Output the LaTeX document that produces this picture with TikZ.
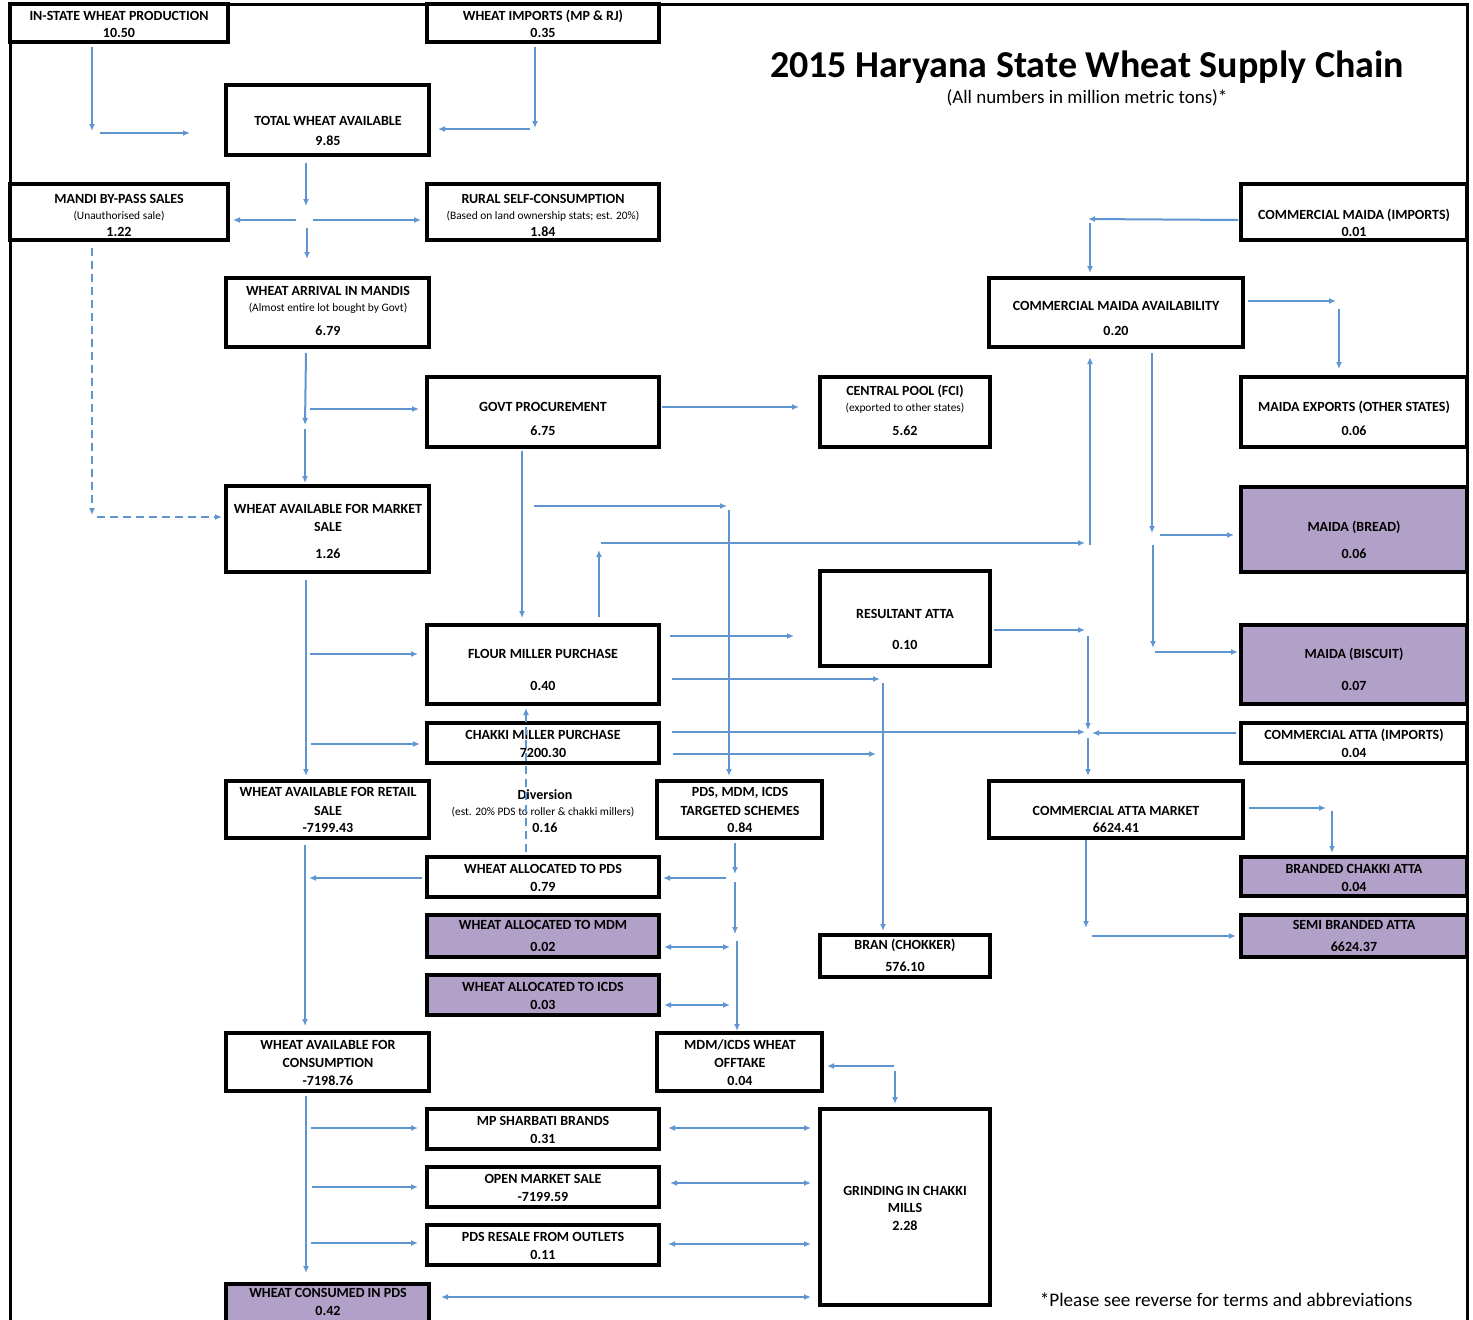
\documentclass[tikz,border=0pt]{standalone}
\usepackage{fontspec}
\setmainfont{Carlito}
\usetikzlibrary{arrows.meta,fit}
\definecolor{lblue}{RGB}{95,150,210}
\definecolor{lpurp}{RGB}{177,160,199}
\tikzset{
 box/.style={draw=black,line width=4pt,inner sep=0pt},
 pbox/.style={box,fill=lpurp},
 bt/.style={font=\fontsize{14}{16}\selectfont\bfseries,anchor=mid,inner sep=0pt,yshift=-2.5pt},
 st/.style={font=\fontsize{11.4}{13}\selectfont,anchor=mid,inner sep=0pt,yshift=-2pt},
 arr/.style={draw=lblue,line width=2pt,-{Latex[length=7pt,width=6pt]}},
 darr/.style={draw=lblue,line width=2pt,{Latex[length=7pt,width=6pt]}-{Latex[length=7pt,width=6pt]}},
 dasharr/.style={arr,dash pattern=on 8pt off 5pt},
 frm/.style={line width=3pt,draw=black},
}
\newcommand\Bx[6]{\node[#6,fit={(#2,#3)(#4,#5)}] (#1) {};}
\newcommand\Tb[3]{\node[bt] at (#1,#2) {#3};}
\newcommand\Ts[3]{\node[st] at (#1,#2) {#3};}
\begin{document}
\begin{tikzpicture}[x=1pt,y=-1pt]
\useasboundingbox (0,0) rectangle (1473,1320);
\clip (0,0) rectangle (1473,1320);
\fill[white] (0,0) rectangle (1473,1320);
% frame
\draw[frm] (10,1330) -- (10,4) -- (1467,4) -- (1467,1330);
% boxes
\Bx{inst}{10}{4}{228}{42}{box}
\Bx{imp}{427}{4}{659}{42}{box}
\Bx{total}{226}{85}{429}{155}{box}
\Bx{mandi}{10}{184}{228}{240}{box}
\Bx{rural}{427}{184}{659}{240}{box}
\Bx{arrival}{226}{278}{429}{347}{box}
\Bx{govt}{427}{377}{659}{447}{box}
\Bx{central}{820}{377}{990}{447}{box}
\Bx{market}{226}{486}{429}{572}{box}
\Bx{cmimp}{1241}{184}{1467}{240}{box}
\Bx{mavail}{989}{278}{1243}{347}{box}
\Bx{mexp}{1241}{377}{1467}{447}{box}
\Bx{bread}{1241}{487}{1467}{572}{pbox}
\Bx{resatta}{820}{571}{990}{666}{box}
\Bx{flour}{427}{625}{659}{704}{box}
\Bx{biscuit}{1241}{625}{1467}{704}{pbox}
\Bx{chakki}{427}{723}{659}{763}{box}
\Bx{attaimp}{1241}{723}{1467}{763}{box}
\Bx{retail}{226}{781}{429}{838}{box}
\Bx{pds}{657}{781}{822}{838}{box}
\Bx{attamkt}{989}{781}{1243}{838}{box}
\Bx{branded}{1241}{857}{1467}{896}{pbox}
\Bx{allocpds}{427}{857}{659}{897}{box}
\Bx{mdm}{427}{915}{659}{957}{pbox}
\Bx{semi}{1241}{915}{1467}{957}{pbox}
\Bx{bran}{820}{935}{990}{977}{box}
\Bx{icds}{427}{975}{659}{1015}{pbox}
\Bx{consump}{226}{1033}{429}{1091}{box}
\Bx{offtake}{657}{1033}{822}{1091}{box}
\Bx{sharbati}{427}{1109}{659}{1149}{box}
\Bx{grind}{820}{1109}{990}{1305}{box}
\Bx{open}{427}{1167}{659}{1207}{box}
\Bx{resale}{427}{1225}{659}{1265}{box}
\Bx{consumed}{226}{1284}{429}{1340}{pbox}
% texts
\Tb{119}{16}{IN-STATE WHEAT PRODUCTION}
\Tb{119}{33}{10.50}
\Tb{543}{16}{WHEAT IMPORTS (MP \& RJ)}
\Tb{543}{33}{0.35}
\Tb{328}{121}{TOTAL WHEAT AVAILABLE}
\Tb{328}{141}{9.85}
\Tb{119}{199}{MANDI BY-PASS SALES}
\Ts{119}{215}{(Unauthorised sale)}
\Tb{119}{232}{1.22}
\Tb{543}{199}{RURAL SELF-CONSUMPTION}
\Ts{543}{215}{(Based on land ownership stats; est. 20\%)}
\Tb{543}{232}{1.84}
\Tb{328}{291}{WHEAT ARRIVAL IN MANDIS}
\Ts{328}{307}{(Almost entire lot bought by Govt)}
\Tb{328}{331}{6.79}
\Tb{543}{407}{GOVT PROCUREMENT}
\Tb{543}{431}{6.75}
\Tb{905}{391}{CENTRAL POOL (FCI)}
\Ts{905}{407}{(exported to other states)}
\Tb{905}{431}{5.62}
\Tb{328}{509}{WHEAT AVAILABLE FOR MARKET}
\Tb{328}{527}{SALE}
\Tb{328}{554}{1.26}
\Tb{1354}{215}{COMMERCIAL MAIDA (IMPORTS)}
\Tb{1354}{232}{0.01}
\Tb{1116}{306}{COMMERCIAL MAIDA AVAILABILITY}
\Tb{1116}{331}{0.20}
\Tb{1354}{407}{MAIDA EXPORTS (OTHER STATES)}
\Tb{1354}{431}{0.06}
\Tb{1354}{527}{MAIDA (BREAD)}
\Tb{1354}{554}{0.06}
\Tb{905}{614}{RESULTANT ATTA}
\Tb{905}{645}{0.10}
\Tb{543}{654}{FLOUR MILLER PURCHASE}
\Tb{543}{686}{0.40}
\Tb{1354}{654}{MAIDA (BISCUIT)}
\Tb{1354}{686}{0.07}
\Tb{543}{735}{CHAKKI MILLER PURCHASE}
\Tb{543}{753}{7200.30}
\Tb{1354}{735}{COMMERCIAL ATTA (IMPORTS)}
\Tb{1354}{753}{0.04}
\Tb{328}{792}{WHEAT AVAILABLE FOR RETAIL}
\Tb{328}{811}{SALE}
\Tb{328}{828}{-7199.43}
\Tb{545}{795}{Diversion}
\Ts{543}{811}{(est. 20\% PDS to roller \& chakki millers)}
\Tb{545}{828}{0.16}
\Tb{740}{792}{PDS, MDM, ICDS}
\Tb{740}{811}{TARGETED SCHEMES}
\Tb{740}{828}{0.84}
\Tb{1116}{811}{COMMERCIAL ATTA MARKET}
\Tb{1116}{828}{6624.41}
\Tb{1354}{869}{BRANDED CHAKKI ATTA}
\Tb{1354}{887}{0.04}
\Tb{543}{869}{WHEAT ALLOCATED TO PDS}
\Tb{543}{887}{0.79}
\Tb{543}{925}{WHEAT ALLOCATED TO MDM}
\Tb{543}{947}{0.02}
\Tb{1354}{925}{SEMI BRANDED ATTA}
\Tb{1354}{947}{6624.37}
\Tb{905}{945}{BRAN (CHOKKER)}
\Tb{905}{967}{576.10}
\Tb{543}{987}{WHEAT ALLOCATED TO ICDS}
\Tb{543}{1005}{0.03}
\Tb{328}{1045}{WHEAT AVAILABLE FOR}
\Tb{328}{1063}{CONSUMPTION}
\Tb{328}{1081}{-7198.76}
\Tb{740}{1045}{MDM/ICDS WHEAT}
\Tb{740}{1063}{OFFTAKE}
\Tb{740}{1081}{0.04}
\Tb{543}{1121}{MP SHARBATI BRANDS}
\Tb{543}{1139}{0.31}
\Tb{905}{1191}{GRINDING IN CHAKKI}
\Tb{905}{1208}{MILLS}
\Tb{905}{1226}{2.28}
\Tb{543}{1179}{OPEN MARKET SALE}
\Tb{543}{1197}{-7199.59}
\Tb{543}{1237}{PDS RESALE FROM OUTLETS}
\Tb{543}{1255}{0.11}
\Tb{328}{1293}{WHEAT CONSUMED IN PDS}
\Tb{328}{1311}{0.42}
% title
\node[font=\fontsize{38}{44}\selectfont\bfseries,anchor=base,inner sep=0pt] (title) at (1087,77) {2015 Haryana State Wheat Supply Chain};
\node[font=\fontsize{19}{22}\selectfont,anchor=base,inner sep=0pt] (subtitle) at (1087,103) {(All numbers in million metric tons)*};
\node[font=\fontsize{19.2}{22}\selectfont,anchor=base,inner sep=0pt] (foot) at (1226,1306) {*Please see reverse for terms and abbreviations};
% connectors
\draw[arr] (92,47) -- (92,131);
\draw[arr] (100,133) -- (190,133);
\draw[arr] (535,47) -- (535,128);
\draw[arr] (530,129) -- (438,129);
\draw[arr] (306,163) -- (306,206);
\draw[arr] (296,220) -- (233,220);
\draw[arr] (313,220) -- (421,220);
\draw[arr] (307,228) -- (307,259);
\draw[dasharr] (92,248) -- (92,515);
\draw[dasharr] (97,517) -- (222,517);
\draw[arr] (306,353) -- (305,425);
\draw[arr] (310,409) -- (419,409);
\draw[arr] (305,429) -- (305,483);
\draw[arr] (662,407) -- (799,407);
\draw[arr] (522,451) -- (522,618);
\draw[arr] (534,506) -- (727,506);
\draw[arr] (729,510) -- (729,776);
\draw[arr] (599,617) -- (599,550);
\draw[arr] (601,543) -- (1085,543);
\draw[arr] (1090,545) -- (1090,357);
\draw[arr] (1238,220) -- (1088,219);
\draw[arr] (1090,223) -- (1090,273);
\draw[arr] (1248,301) -- (1336,301);
\draw[arr] (1339,309) -- (1339,369);
\draw[arr] (1152,353) -- (1152,533);
\draw[arr] (1160,535) -- (1234,535);
\draw[arr] (1153,545) -- (1153,648);
\draw[arr] (1155,652) -- (1238,652);
\draw[arr] (670,636) -- (794,636);
\draw[arr] (672,679) -- (880,679);
\draw[arr] (883,683) -- (883,931);
\draw[arr] (994,630) -- (1085,630);
\draw[arr] (1088,636) -- (1088,730);
\draw[arr] (672,732) -- (1085,732);
\draw[arr] (1236,733) -- (1092,733);
\draw[arr] (1088,738) -- (1088,776);
\draw[arr] (673,754) -- (876,754);
\draw[arr] (306,580) -- (306,776);
\draw[arr] (310,654) -- (418,654);
\draw[arr] (311,744) -- (420,744);
\draw[dasharr] (526,852) -- (526,708);
\draw[arr] (305,845) -- (305,1026);
\draw[arr] (422,878) -- (309,878);
\draw[arr] (735,843) -- (735,874);
\draw[arr] (726,878) -- (663,878);
\draw[arr] (735,882) -- (735,934);
\draw[darr] (664,947) -- (730,947);
\draw[arr] (737,941) -- (737,1031);
\draw[darr] (664,1005) -- (730,1005);
\draw[arr] (894,1066) -- (827,1066);
\draw[arr] (895,1071) -- (895,1104);
\draw[arr] (306,1096) -- (306,1273);
\draw[arr] (311,1128) -- (418,1128);
\draw[arr] (312,1187) -- (418,1187);
\draw[arr] (311,1243) -- (418,1243);
\draw[darr] (668,1128) -- (811,1128);
\draw[darr] (670,1183) -- (811,1183);
\draw[darr] (668,1244) -- (811,1244);
\draw[darr] (441,1297) -- (811,1297);
\draw[arr] (1249,808) -- (1326,808);
\draw[arr] (1332,811) -- (1332,853);
\draw[arr] (1086,840) -- (1086,928);
\draw[arr] (1092,936) -- (1236,936);
\end{tikzpicture}
\end{document}
